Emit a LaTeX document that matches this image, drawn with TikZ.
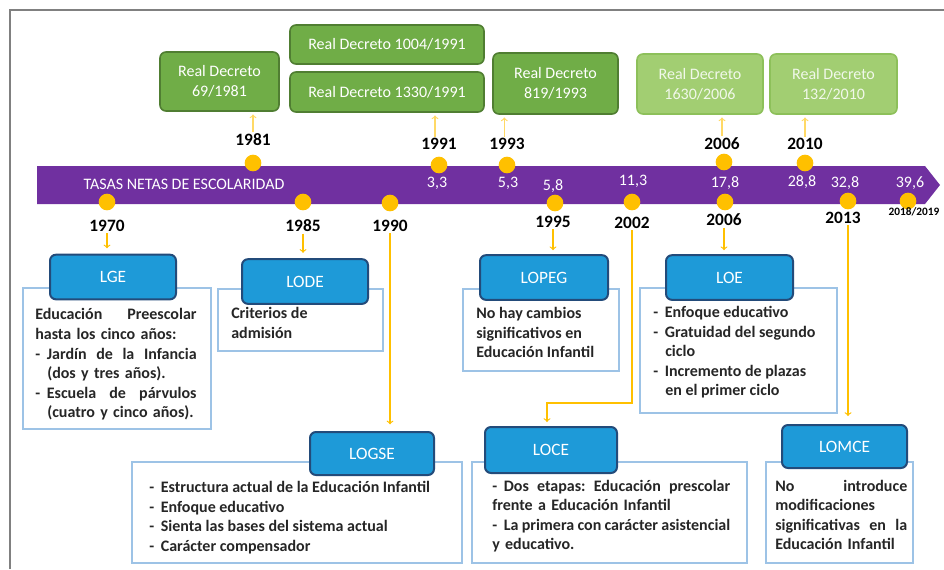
\documentclass[tikz,border=0pt]{standalone}
\usepackage{fontspec}
\setmainfont{Carlito}
\definecolor{barpurple}{HTML}{7030A0}
\definecolor{dotgold}{HTML}{FFC000}
\definecolor{rdgreen}{HTML}{70AD47}
\definecolor{rdgreenline}{HTML}{507E32}
\definecolor{rdpale}{HTML}{A2CE72}
\definecolor{rdpaleline}{HTML}{8DC05A}
\definecolor{leyblue}{HTML}{1E9AD8}
\definecolor{leyline}{HTML}{234B7A}
\definecolor{boxline}{HTML}{9DC3E6}
\newcommand{\guion}{-\hspace{5pt}}
\newcommand{\sangria}{\hspace*{9pt}}

\begin{document}
\begin{tikzpicture}[x=0.75pt,y=-0.75pt,
    decreto/.style={rectangle, rounded corners=4.5pt, draw=rdgreenline, line width=1.2pt,
    fill=rdgreen, text=white, font=\fontsize{12}{15}\selectfont, align=center, inner sep=0pt},
    decretopale/.style={decreto, draw=rdpaleline, fill=rdpale, text=white!85!rdpale},
    ley/.style={rectangle, rounded corners=4.5pt, draw=leyline, line width=1.5pt,
    fill=leyblue, text=white, font=\fontsize{13}{15}\selectfont, inner sep=0pt,
    minimum width=94.5pt, minimum height=33.5pt}]
    \tikzstyle{marco}=[rectangle, draw=boxline, line width=0.8pt, fill=white, inner sep=0pt]
    \tikzstyle{texto}=[anchor=north west, inner sep=0pt, align=left, text=black!85,
        font=\bfseries\fontsize{12}{14.7}\selectfont, execute at begin node=\strut]
    \tikzstyle{punto}=[circle, fill=dotgold, minimum size=12.5pt, inner sep=0pt]
    \tikzstyle{anio}=[font=\bfseries\fontsize{13}{15}\selectfont, inner sep=1pt]
    \tikzstyle{tasa}=[text=white, font=\fontsize{12}{14}\selectfont, inner sep=0pt]
    \tikzstyle{baja}=[->, draw=dotgold, line width=0.9pt]
    \tikzstyle{sube}=[->, draw=dotgold!60, line width=0.9pt, shorten >=2pt]
    \useasboundingbox (0,0) rectangle (944,569);
    % marco exterior
    \draw[gray, line width=1.1pt] (10,569) -- (10,10) -- (944,10);

    % barra de tiempo
    \fill[barpurple] (37,166) -- (925,166) -- (940,185) -- (925,204) -- (37,204) -- cycle;
    \node[text=white, font=\fontsize{12}{14}\selectfont] (titulo) at (184,184)
        {TASAS NETAS DE ESCOLARIDAD};

    % reales decretos
    \node[decreto, minimum width=89.25pt, minimum height=44.25pt] (rd81) at (219.5,81.5)
        {Real Decreto\\69/1981};
    \node[decreto, minimum width=145.5pt, minimum height=29.25pt] (rd1004) at (387,44.5)
        {Real Decreto 1004/1991};
    \node[decreto, minimum width=145.5pt, minimum height=30pt] (rd1330) at (387,92)
        {Real Decreto 1330/1991};
    \node[decreto, minimum width=93.75pt, minimum height=45.75pt] (rd93) at (555.5,83.5)
        {Real Decreto\\819/1993};
    \node[decretopale, minimum width=94.5pt, minimum height=45pt] (rd06) at (700,84)
        {Real Decreto\\1630/2006};
    \node[decretopale, minimum width=95.25pt, minimum height=45pt] (rd10) at (833.5,84)
        {Real Decreto\\132/2010};

    % puntos sobre la barra
    \node[punto] (d81) at (253,163) {};
    \node[punto] (d91) at (439,165) {};
    \node[punto] (d93) at (507,165) {};
    \node[punto] (d06a) at (724,162) {};
    \node[punto] (d10) at (805,163) {};
    \node[punto] (d70) at (107,202) {};
    \node[punto] (d85) at (303,202) {};
    \node[punto] (d90) at (390,203) {};
    \node[punto] (d95) at (555,203) {};
    \node[punto] (d02) at (632,202) {};
    \node[punto] (d06b) at (725,202) {};
    \node[punto] (d13) at (848,201) {};
    \node[punto] (d18) at (908,201) {};

    % tasas
    \node[tasa] (t91) at (437,183) {3,3};
    \node[tasa] (t93) at (508,183) {5,3};
    \node[tasa] (t95) at (553,186) {5,8};
    \node[tasa] (t02) at (633,181) {11,3};
    \node[tasa] (t06) at (725,183) {17,8};
    \node[tasa] (t10) at (802,182) {28,8};
    \node[tasa] (t13) at (845,183) {32,8};
    \node[tasa] (t18) at (910,183) {39,6};

    % años
    \node[anio] (y81) at (253,140) {1981};
    \node[anio] (y91) at (439,144) {1991};
    \node[anio] (y93) at (507,144) {1993};
    \node[anio] (y06a) at (722,144) {2006};
    \node[anio] (y10) at (805,144) {2010};
    \node[anio] (y70) at (107,226) {1970};
    \node[anio] (y85) at (303,226) {1985};
    \node[anio] (y90) at (390,226) {1990};
    \node[anio] (y95) at (553,222) {1995};
    \node[anio] (y02) at (632,223) {2002};
    \node[anio] (y06b) at (724,220) {2006};
    \node[anio] (y13) at (843,218) {2013};
    \node[anio, font=\bfseries\fontsize{8.5}{10}\selectfont] (y18) at (914,212) {2018/2019};

    % cuadros de texto
    \node[marco, minimum width=141pt, minimum height=105.75pt] (lgebox) at (117,358.5) {};
    \node[marco, minimum width=123.75pt, minimum height=46.5pt] (lodebox) at (300.5,320) {};
    \node[marco, minimum width=117pt, minimum height=61.5pt] (lopegbox) at (541,330) {};
    \node[marco, minimum width=147.75pt, minimum height=93.75pt] (loebox) at (738.5,350.5) {};
    \node[marco, minimum width=247.5pt, minimum height=75.75pt] (logsebox) at (297,512.5) {};
    \node[marco, minimum width=206.25pt, minimum height=75.75pt] (locebox) at (609.5,512.5) {};
    \node[marco, minimum width=110.25pt, minimum height=75.75pt] (lomcebox) at (839.5,512.5) {};

    \node[texto, text width=121pt] (lgetext) at (35,306)
        {Educación\hfill Preescolar\\ hasta los cinco años:\\
         \guion Jardín\hfill de\hfill la\hfill Infancia\\ \sangria(dos y tres años).\\
         \guion Escuela\hfill de\hfill párvulos\\ \sangria(cuatro y cinco años).};
    \node[texto] (lodetext) at (231,307) {Criterios de\\ admisión};
    \node[texto] (lopegtext) at (476,307)
        {No hay cambios\\ significativos en\\ Educación Infantil};
    \node[texto] (loetext) at (653,306)
        {\guion Enfoque educativo\\ \guion Gratuidad del segundo\\ \sangria ciclo\\
         \guion Incremento de plazas\\ \sangria en el primer ciclo};
    \node[texto] (logsetext) at (149,481)
        {\guion Estructura actual de la Educación Infantil\\ \guion Enfoque educativo\\
         \guion Sienta las bases del sistema actual\\ \guion Carácter compensador};
    \node[texto, text width=178.5pt] (locetext) at (492,477)
        {\guion Dos\hfill etapas:\hfill Educación\hfill prescolar\\ frente a Educación Infantil\\
         \guion La\hfill primera\hfill con\hfill carácter\hfill asistencial\\ y educativo.};
    \node[texto, text width=99pt] (lomcetext) at (775,477)
        {No\hfill introduce\\ modificaciones\\ significativas\hfill en\hfill la\\ Educación Infantil};

    % leyes
    \node[ley] (lge) at (113,277) {LGE};
    \node[ley] (lode) at (305,281.5) {LODE};
    \node[ley, minimum width=96pt] (lopeg) at (544,277.5) {LOPEG};
    \node[ley, minimum width=95.25pt] (loe) at (729.5,277.5) {LOE};
    \node[ley, minimum width=93pt, minimum height=32.25pt] (logse) at (372,453.5) {LOGSE};
    \node[ley, minimum width=99pt, minimum height=34.5pt] (loce) at (551,450) {LOCE};
    \node[ley, minimum width=93.75pt, minimum height=32.25pt] (lomce) at (844.5,446.5) {LOMCE};

    % flechas
    \draw[sube] (y81.north) -- (y81.north |- rd81.south);
    \draw[sube] ([xshift=-3pt]y91.north) -- ([xshift=-3pt]y91.north |- rd1330.south);
    \draw[sube] ([xshift=-2pt]y93.north) -- ([xshift=-2pt]y93.north |- rd93.south);
    \draw[sube] (y06a.north) -- (y06a.north |- rd06.south);
    \draw[sube] (y10.north) -- (y10.north |- rd10.south);
    \draw[baja, shorten >=4pt] (y70.south) -- (y70.south |- lge.north);
    \draw[baja, shorten >=4pt] (y85.south) -- (y85.south |- lode.north);
    \draw[baja, shorten >=5pt] (y90.south) -- (y90.south |- logse.north);
    \draw[baja, shorten >=3pt] (y95.south) -- (y95.south |- lopeg.north);
    \coordinate (codo02) at (547,403);
    \draw[baja, shorten >=3pt] (y02.south) |- (codo02) -- (codo02 |- loce.north);
    \draw[baja, shorten >=3pt] (y06b.south) -- (y06b.south |- loe.north);
    \draw[baja, shorten >=6pt] (d13 |- y13.south) -- (d13 |- lomce.north);
\end{tikzpicture}
\end{document}
